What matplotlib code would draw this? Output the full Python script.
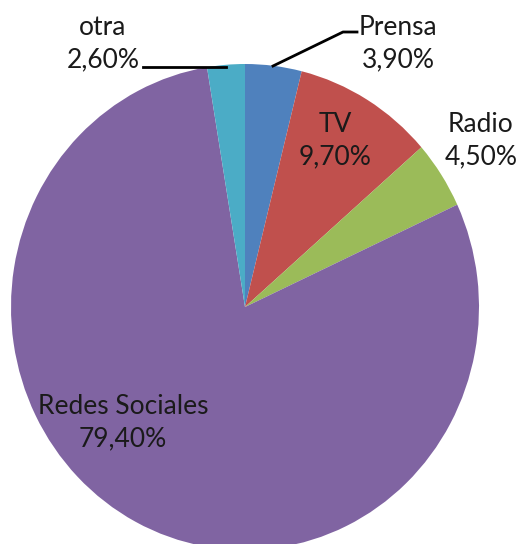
import matplotlib
matplotlib.use("Agg")
import matplotlib.pyplot as plt
from matplotlib.lines import Line2D

categories = ["Prensa", "TV", "Radio", "Redes Sociales", "otra"]
values = [3.9, 9.7, 4.5, 79.4, 2.6]
value_labels = ["3,90%", "9,70%", "4,50%", "79,40%", "2,60%"]
colors = ["#4F81BD", "#C0504D", "#9BBB59", "#8064A2", "#4BACC6"]

W, H = 517, 544
fig = plt.figure(figsize=(W / 100, H / 100), dpi=100)
ax = fig.add_axes([0, 0, 1, 1])

# pie geometry in pixels: center (245, 307), rx 234, ry 243
cx, cy, rx, ry = 245, 307, 234, 243
ax.pie(values, colors=colors, startangle=90, counterclock=False,
       radius=1, center=(0, 0), wedgeprops=dict(linewidth=0))
ax.set_aspect("auto")
ax.set_xlim(-cx / rx, (W - cx) / rx)
ax.set_ylim(-(H - cy) / ry, cy / ry)
ax.axis("off")

# label positions (pixel coords, center of text block)
label_pos = {
    "Prensa": (398, 44),
    "TV": (335, 141),
    "Radio": (481, 141),
    "Redes Sociales": (123, 423),
    "otra": (103, 44),
}
fs = 19
for cat, vl in zip(categories, value_labels):
    px, py = label_pos[cat]
    fig.text(px / W, 1 - py / H, f"{cat}\n{vl}", ha="center", va="center",
             fontsize=fs, family="Lato", color="#1a1a1a", linespacing=1.38)

def pline(xs, ys):
    fig.add_artist(Line2D([x / W for x in xs], [1 - y / H for y in ys],
                          color="black", linewidth=2, transform=fig.transFigure))

pline([143, 226], [67, 67])
pline([273, 343, 357], [66, 32, 32])

fig.savefig("out.png", dpi=100)
